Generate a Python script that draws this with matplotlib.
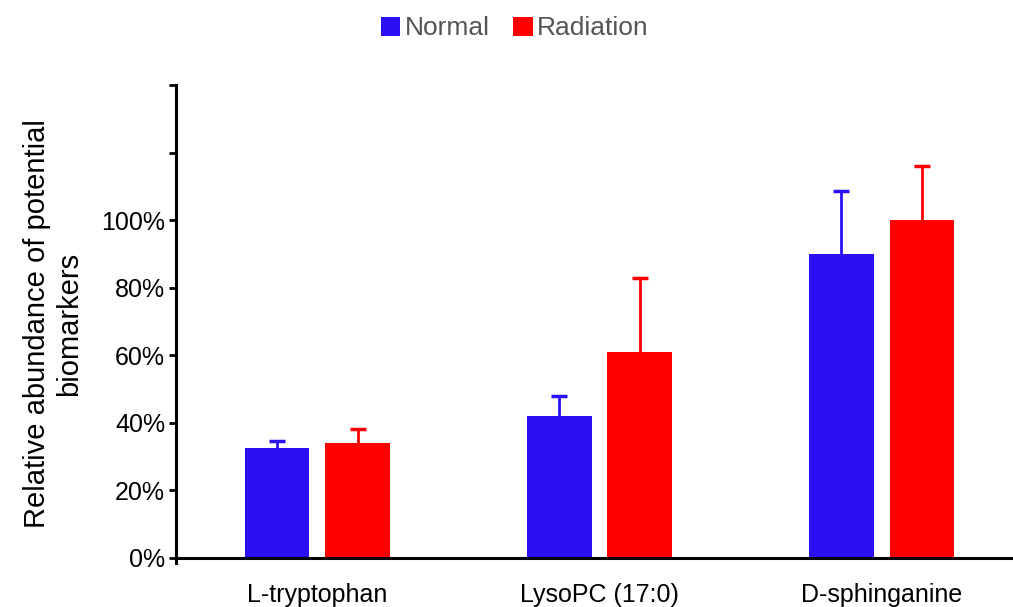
import matplotlib.pyplot as plt
import numpy as np

plt.rcParams['font.family'] = ['Liberation Sans', 'DejaVu Sans']

categories = ['L-tryptophan', 'LysoPC (17:0)', 'D-sphinganine']
normal = [32.5, 42, 90]
normal_err = [2, 6, 18.5]
radiation = [34, 61, 100]
radiation_err = [4.3, 22, 16]

x = np.arange(len(categories))
w = 0.23
off = 0.143

fig = plt.figure(figsize=(10.13, 6.07), dpi=100)
ax = fig.add_axes([0.174, 0.0725, 0.83, 0.7875])

for s in ['top', 'right']:
    ax.spines[s].set_visible(False)
ax.spines['left'].set_linewidth(2.2)
ax.spines['bottom'].set_linewidth(2.2)
ax.spines['bottom'].set_position(('data', 0))

b1 = ax.bar(x - off, normal, w, color='#2b10f5', label='Normal',
            yerr=[np.zeros(3), normal_err],
            error_kw=dict(ecolor='#2b10f5', elinewidth=2, capsize=6, capthick=2.5))
b2 = ax.bar(x + off, radiation, w, color='#ff0000', label='Radiation',
            yerr=[np.zeros(3), radiation_err],
            error_kw=dict(ecolor='#ff0000', elinewidth=2, capsize=6, capthick=2.5))
# hide lower caps
for b in (b1, b2):
    caps = b.errorbar.lines[1]
    caps[0].set_visible(False)

ax.set_xlim(-0.5, 2.48)
ax.set_ylim(-1.5, 140)
ax.set_yticks(np.arange(0, 141, 20))
ax.set_yticklabels(['0%', '20%', '40%', '60%', '80%', '100%', '', ''], fontsize=18)
ax.set_xticks(x)
ax.set_xticklabels(categories, fontsize=18)
ax.tick_params(axis='x', length=0, pad=18)
ax.tick_params(axis='y', direction='out', length=5, width=2, pad=3)

ax.set_ylabel('Relative abundance of potential\nbiomarkers', fontsize=21, labelpad=13)

leg = fig.legend(loc='upper center', ncol=2, frameon=False, fontsize=19,
                 bbox_to_anchor=(0.508, 1.012), handlelength=0.75, handleheight=0.75,
                 handletextpad=0.15, columnspacing=0.9)
for t in leg.get_texts():
    t.set_color('#555555')

plt.savefig('out.png', dpi=100)
